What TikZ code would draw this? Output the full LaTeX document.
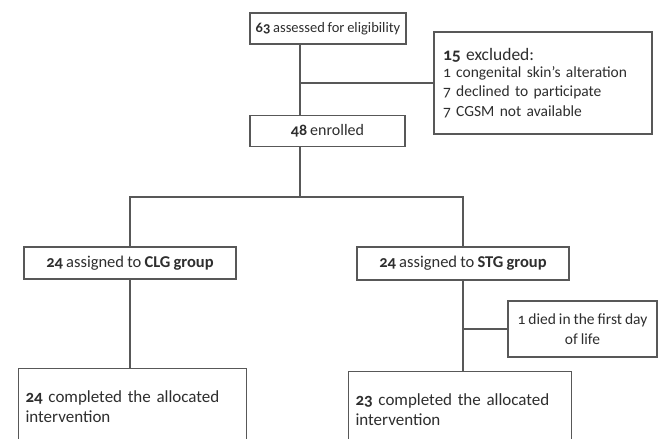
\documentclass[tikz,border=0pt]{standalone}
\usepackage{fontspec}
\setmainfont{Carlito}[Numbers=OldStyle,WordSpace=0.85]
\usetikzlibrary{positioning}
\definecolor{linegray}{HTML}{585858}
\definecolor{txtgray}{HTML}{2E2E2E}

\begin{document}
\begin{tikzpicture}[x=1pt,y=-1pt,
  box/.style={draw=linegray,line width=1.1pt,fill=white,text=txtgray,inner sep=0pt,
    minimum height=31pt,font=\fontsize{16}{20}\selectfont},
  donebox/.style={box,anchor=north west,align=left,inner xsep=7pt,minimum height=76pt,
    font=\fontsize{17}{20.5}\selectfont},
  link/.style={draw=linegray,line width=1.1pt}]
\clip (0,0) rectangle (659,439);
\fill[white] (0,0) rectangle (659,439);

\node[box,minimum width=156pt,font=\fontsize{14.5}{18}\selectfont] (assess) at (328,28.5) {\textbf{63} assessed for eligibility};
\node[box,minimum width=155pt] (enrol) at (327.5,131) {\textbf{48} enrolled};
\node[box,minimum width=218pt,minimum height=102pt,align=left,text width=200pt,inner xsep=9pt]
  (excl) at (543,83) {{\fontsize{17.5}{19}\selectfont\textbf{15} excluded:}\\[-2pt]
  {\fontsize{15.5}{19}\selectfont 1 congenital skin’s alteration\\
  7 declined to participate\\
  7 CGSM not available}\\[6pt]};

\node[box,minimum width=212pt,minimum height=32pt,font=\fontsize{16.5}{20}\selectfont] (clg) at (130,263) {\textbf{24} assigned to \textbf{CLG group}};
\node[box,minimum width=212pt,minimum height=33pt,font=\fontsize{16.5}{20}\selectfont] (stg) at (463,263.5) {\textbf{24} assigned to \textbf{STG group}};
\node[box,minimum width=149pt,minimum height=56pt,align=center,font=\fontsize{15.5}{20}\selectfont]
  (died) at (582.5,329) {1 died in the first day\\of life};

\node[donebox,text width=214pt] (clgdone) at (18,368) {\textbf{24} completed the allocated\\intervention};
\node[donebox,text width=209pt] (stgdone) at (348,371) {\textbf{23} completed the allocated\\intervention};

% connectors
\coordinate (spine) at (300,0);
\coordinate (split) at (300,197);
\draw[link] (assess.south -| spine) -- (enrol.north -| spine);
\draw[link] (excl.west) -- (excl.west -| spine);
\draw[link] (enrol.south -| spine) -- (split);
\draw[link] (clg.north) |- (split) -| (stg.north);
\draw[link] (clg.south) -- (clg.south |- clgdone.north);
\draw[link] (stg.south) -- (stg.south |- stgdone.north);
\draw[link] (died.west) -- (died.west -| stg.south);
\end{tikzpicture}
\end{document}
